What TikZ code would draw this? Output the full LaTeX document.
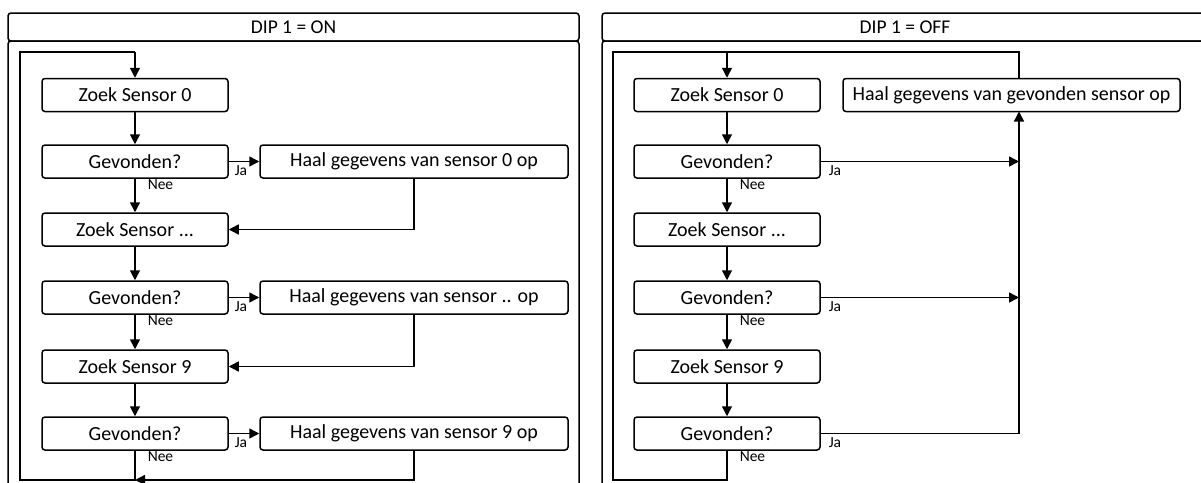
\documentclass[tikz,border=0pt]{standalone}
\usepackage{fontspec}
\setmainfont{Carlito}
\usetikzlibrary{arrows.meta}
\begin{document}
\begin{tikzpicture}[x=1pt,y=-1pt,
  line width=1.5pt,
  box/.style={draw,rounded corners=3pt,minimum height=33pt,inner sep=0pt,font=\fontsize{20}{22}\selectfont},
  sbox/.style={box,minimum width=186pt},
  hbox/.style={box,minimum width=308pt},
  panel/.style={draw,rounded corners=3pt},
  lbl/.style={font=\fontsize{15.5}{17}\selectfont,inner sep=0pt},
  arr/.style={-{Triangle[length=10pt,width=10pt]}},
  line join=miter]
\useasboundingbox (0,0) rectangle (1201,482);
\clip (0,0) rectangle (1201,482);
\fill[white] (0,0) rectangle (1201,482);
% ---------- left panel ----------
\draw[panel] (8,13) rectangle (579,41);
\draw[panel] (8,41) rectangle (579,520);
\node[font=\fontsize{19.5}{21}\selectfont] (hL) at (293.5,27) {DIP 1 = ON};
\node[sbox] (z0) at (135,95) {Zoek Sensor 0};
\node[sbox] (g0) at (135,161.5) {Gevonden?};
\node[sbox] (z1) at (135,229.5) {Zoek Sensor ...};
\node[sbox] (g1) at (135,297.5) {Gevonden?};
\node[sbox] (z9) at (135,366.5) {Zoek Sensor 9};
\node[sbox] (g9) at (135,433.5) {Gevonden?};
\node[hbox] (h0) at (414,161.5) {Haal gegevens van sensor 0 op};
\node[hbox] (h1) at (414,297.5) {Haal gegevens van sensor .. op};
\node[hbox] (h9) at (414,433.5) {Haal gegevens van sensor 9 op};
\coordinate (lTop) at (135,52);
\coordinate (lBot) at (135,480);
\draw[arr] (z0) -- (g0);
\draw[arr] (g0) -- (z1);
\draw[arr] (z1) -- (g1);
\draw[arr] (g1) -- (z9);
\draw[arr] (z9) -- (g9);
\draw[arr] (g0) -- (h0);
\draw[arr] (g1) -- (h1);
\draw[arr] (g9) -- (h9);
\draw[arr] (h0.south) |- (z1.east);
\draw[arr] (h1.south) |- (z9.east);
\draw[arr] (h9.south) |- (lBot);
\draw (g9.south) -- (lBot) -- (20,480) -- (20,52) -- (lTop);
\draw[arr] (lTop) -- (z0);
\node[lbl,anchor=north west] (ja0) at (234,165) {Ja};
\node[lbl,anchor=north west] (ja1) at (234,301) {Ja};
\node[lbl,anchor=north west] (ja9) at (234,437) {Ja};
\node[lbl,anchor=north west] (ne0) at (147,179) {Nee};
\node[lbl,anchor=north west] (ne1) at (147,315) {Nee};
\node[lbl,anchor=north west] (ne9) at (147,451) {Nee};
% ---------- right panel ----------
\draw[panel] (602,13) rectangle (1220,41);
\draw[panel] (602,41) rectangle (1220,520);
\node[font=\fontsize{19.5}{21}\selectfont] (hR) at (905,27) {DIP 1 = OFF};
\node[sbox] (rz0) at (727,95) {Zoek Sensor 0};
\node[sbox] (rg0) at (727,161.5) {Gevonden?};
\node[sbox] (rz1) at (727,229.5) {Zoek Sensor ...};
\node[sbox] (rg1) at (727,297.5) {Gevonden?};
\node[sbox] (rz9) at (727,366.5) {Zoek Sensor 9};
\node[sbox] (rg9) at (727,433.5) {Gevonden?};
\node[box,minimum width=337pt] (rh) at (1011.5,95) {Haal gegevens van gevonden sensor op};
\coordinate (rTop) at (727,52);
\coordinate (rBot) at (727,480);
\coordinate (c0) at (1019,161.5);
\coordinate (c1) at (1019,297.5);
\coordinate (c9) at (1019,433.5);
\coordinate (rhb) at (1019,111.5);
\coordinate (rht) at (1019,78.5);
\draw[arr] (rz0) -- (rg0);
\draw[arr] (rg0) -- (rz1);
\draw[arr] (rz1) -- (rg1);
\draw[arr] (rg1) -- (rz9);
\draw[arr] (rz9) -- (rg9);
\draw[arr] (rg0) -- (c0);
\draw[arr] (rg1) -- (c1);
\draw[arr] (rg9) -- (c9) -- (rhb);
\draw (rg9.south) -- (rBot) -- (613,480) -- (613,52) -- (1019,52) -- (rht);
\draw[arr] (rTop) -- (rz0);
\node[lbl,anchor=north west] (rja0) at (828,165) {Ja};
\node[lbl,anchor=north west] (rja1) at (828,301) {Ja};
\node[lbl,anchor=north west] (rja9) at (828,437) {Ja};
\node[lbl,anchor=north west] (rne0) at (739,179) {Nee};
\node[lbl,anchor=north west] (rne1) at (739,315) {Nee};
\node[lbl,anchor=north west] (rne9) at (739,451) {Nee};
\end{tikzpicture}
\end{document}
